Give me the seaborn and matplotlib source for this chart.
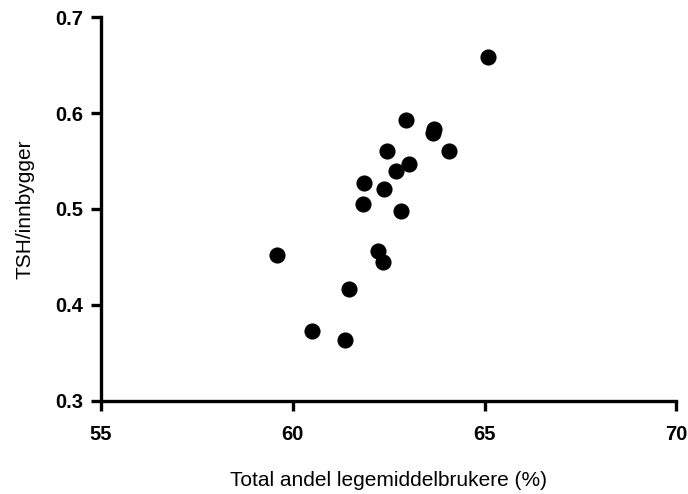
import matplotlib
matplotlib.use("Agg")
import matplotlib.pyplot as plt
import seaborn as sns
import pandas as pd

# Share of population using prescription drugs (%) vs TSH tests per inhabitant
andel = [65.09, 62.94, 63.68, 63.66, 62.46, 64.08, 63.02, 62.69, 61.85,
         62.39, 61.83, 62.81, 59.58, 62.21, 62.36, 61.46, 60.51, 61.37]
tsh = [0.659, 0.593, 0.583, 0.579, 0.560, 0.560, 0.547, 0.540, 0.527,
       0.521, 0.505, 0.498, 0.452, 0.456, 0.445, 0.416, 0.373, 0.363]

x_ticks = [55, 60, 65, 70]
y_ticks = [0.3, 0.4, 0.5, 0.6, 0.7]
y_ticklabels = ["0.3", "0.4", "0.5", "0.6", "0.7"]

df = pd.DataFrame({"andel": andel, "tsh": tsh})

sns.set_style("ticks", {"text.color": "black", "axes.labelcolor": "black",
                        "xtick.color": "black", "ytick.color": "black",
                        "axes.edgecolor": "black"})
plt.rcParams["font.family"] = ["Liberation Sans", "DejaVu Sans"]

fig = plt.figure(figsize=(6.88, 4.94), dpi=100)
ax = fig.add_axes([0.1468, 0.1889, 0.8363, 0.7761])

sns.scatterplot(data=df, x="andel", y="tsh", ax=ax, s=135, color="black",
                edgecolor="black", linewidth=0, legend=False, clip_on=False)

ax.set_xlim(55, 70)
ax.set_ylim(0.3, 0.7)
ax.set_xticks(x_ticks)
ax.set_xticklabels([str(t) for t in x_ticks])
ax.set_yticks(y_ticks)
ax.set_yticklabels(y_ticklabels)

for side in ["top", "right"]:
    ax.spines[side].set_visible(False)
for side in ["left", "bottom"]:
    ax.spines[side].set_linewidth(2.4)
    ax.spines[side].set_color("black")

ax.tick_params(axis="both", length=7.2, width=2.4, color="black",
               labelcolor="black", labelsize=14.5)
ax.tick_params(axis="x", pad=10.5)
ax.tick_params(axis="y", pad=5.5)
for lbl in ax.get_xticklabels() + ax.get_yticklabels():
    lbl.set_fontweight("bold")

ax.set_xlabel("Total andel legemiddelbrukere (%)", fontsize=15,
              labelpad=19, color="black")
ax.set_ylabel("TSH/innbygger", fontsize=15, labelpad=15, color="black")

fig.savefig("out.png", dpi=100)
